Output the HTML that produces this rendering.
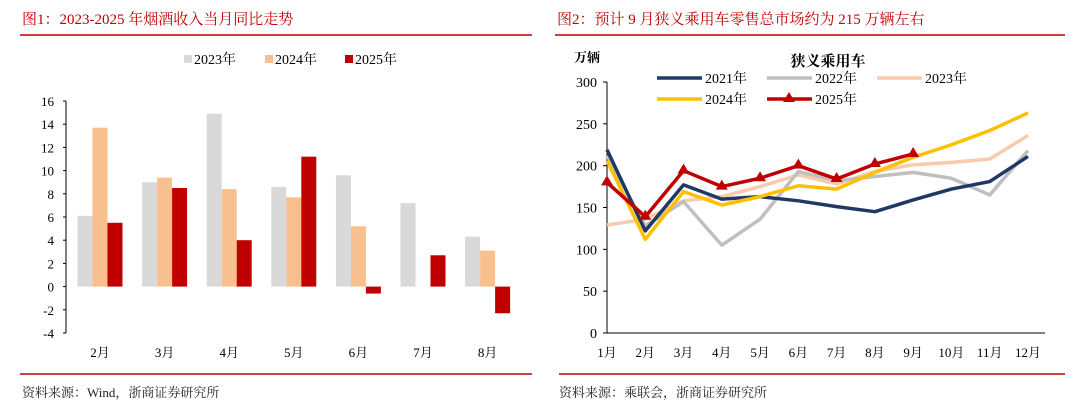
<!DOCTYPE html>
<html><head><meta charset="utf-8"><style>
body{margin:0;width:1080px;height:409px;background:#fff;overflow:hidden;font-family:"Liberation Serif","Noto Serif CJK SC",serif}
svg{position:absolute;left:0;top:0}
text{font-family:"Liberation Serif","Noto Serif CJK SC",serif}
</style></head><body>
<svg id="s" width="1080" height="409">
<text x="22" y="24" font-size="15" fill="#c00000">图1：2023-2025 年烟酒收入当月同比走势</text>
<line x1="20" y1="35" x2="532" y2="35" stroke="#c00000" stroke-width="1.5"/>
<text x="557" y="24" font-size="15" fill="#c00000">图2：预计 9 月狭义乘用车零售总市场约为 215 万辆左右</text>
<line x1="555" y1="35" x2="1065" y2="35" stroke="#c00000" stroke-width="1.5"/>
<line x1="20" y1="374" x2="532" y2="374" stroke="#c00000" stroke-width="1.5"/>
<line x1="559" y1="374" x2="1065" y2="374" stroke="#c00000" stroke-width="1.5"/>
<text x="22" y="397" font-size="13" fill="#222">资料来源：Wind，浙商证券研究所</text>
<text x="559" y="397" font-size="13" fill="#222">资料来源：乘联会，浙商证券研究所</text>
<g id="L"></g><g id="R"></g>
</svg>
<script>
const barCats=["2月","3月","4月","5月","6月","7月","8月"];
const v2023=[6.1,9.0,14.9,8.6,9.6,7.2,4.3];
const v2024=[13.7,9.4,8.4,7.7,5.2,null,3.1];
const v2025=[5.5,8.5,4.0,11.2,-0.6,2.7,-2.3];
const barTicks=[16,14,12,10,8,6,4,2,0,-2,-4];
const lineCats=["1月","2月","3月","4月","5月","6月","7月","8月","9月","10月","11月","12月"];
const s2021=[219,122,177,160,163,158,151,145,159,172,181,211];
const s2022=[212,128,157,105,136,193,182,187,192,185,165,218];
const s2023=[129,136,158,163,175,189,178,193,201,204,208,236];
const s2024=[206,112,169,153,163,176,172,192,210,225,242,263];
const s2025=[180,139,194,175,185,200,184,202,214];
const lineTicks=[0,50,100,150,200,250,300];
const NS="http://www.w3.org/2000/svg";
function mk(p,t,a,txt){const e=document.createElementNS(NS,t);for(const k in a)e.setAttribute(k,a[k]);if(txt!=null)e.textContent=txt;p.appendChild(e);return e;}
// left chart
const L=document.getElementById('L');
const yB=v=>286.6-v*11.6, xB=i=>100+i*64.6;
mk(L,'line',{x1:66,y1:yB(16),x2:66,y2:yB(-4),stroke:'#000','stroke-width':1,});
barTicks.forEach(t=>{
 const tk=mk(L,'line',{x1:63,y1:yB(t),x2:66,y2:yB(t),stroke:'#000'});
 
 const tx=mk(L,'text',{x:54,y:yB(t)+5,'font-size':13,'text-anchor':'end'},t);
 
});
const series=[[v2023,'#d9d9d9',-15],[v2024,'#f8c08f',0],[v2025,'#c00000',15]];
barCats.forEach((c,i)=>{
 const tx=mk(L,'text',{x:xB(i),y:357,'font-size':13,'text-anchor':'middle'},c);
 
 series.forEach(([arr,col,off])=>{const v=arr[i];if(v==null)return;
  const r=mk(L,'rect',{x:xB(i)+off-7.5,y:Math.min(yB(v),yB(0)),width:15,height:Math.abs(yB(v)-yB(0)),fill:col});
  });
});
[['2023年','#d9d9d9',184],['2024年','#f8c08f',265],['2025年','#c00000',345]].forEach(([n,c,x])=>{
 const g=mk(L,'g',{});
 mk(g,'rect',{x:x,y:55,width:8,height:8,fill:c});mk(g,'text',{x:x+10,y:64,'font-size':14},n);});
// right chart
const R=document.getElementById('R');
const yL=v=>333-v*(251/300), xL=i=>607+i*38.27;
mk(R,'line',{x1:607,y1:yL(300),x2:607,y2:yL(0),stroke:'#000',});
mk(R,'line',{x1:607,y1:yL(0),x2:1045,y2:yL(0),stroke:'#000',});
lineTicks.forEach(t=>{
 const tk=mk(R,'line',{x1:603,y1:yL(t),x2:607,y2:yL(t),stroke:'#000'});
 
 const tx=mk(R,'text',{x:597,y:yL(t)+5,'font-size':14,'text-anchor':'end'},t);
 
});
lineCats.forEach((c,i)=>{const tx=mk(R,'text',{x:xL(i),y:357,'font-size':13,'text-anchor':'middle'},c);
 });
mk(R,'text',{x:574,y:62,'font-size':13,'font-weight':'bold',},'万辆');
mk(R,'text',{x:828,y:66,'font-size':15,'font-weight':'bold','text-anchor':'middle',},'狭义乘用车');
const lines=[[s2023,'#f8cbad','2023年'],[s2022,'#bfbfbf','2022年'],[s2021,'#203864','2021年'],[s2024,'#ffc000','2024年'],[s2025,'#c00000','2025年']];
lines.forEach(([arr,col])=>{
 const p=mk(R,'polyline',{points:arr.map((v,i)=>xL(i)+','+yL(v)).join(' '),fill:'none',stroke:col,'stroke-width':3.5,'stroke-linejoin':'round'});
 
 if(arr===s2025)arr.forEach((v,i)=>{const m=mk(R,'path',{d:`M${xL(i)},${yL(v)-7}l6,10h-12z`,fill:col});
  });
});
[['2021年','#203864',657,82],['2022年','#bfbfbf',767,82],['2023年','#f8cbad',877,82],['2024年','#ffc000',657,103],['2025年','#c00000',767,103]].forEach(([n,c,x,y])=>{
 const g=mk(R,'g',{});
 mk(g,'line',{x1:x,y1:y-4,x2:x+45,y2:y-4,stroke:c,'stroke-width':3.5});
 if(n==='2025年')mk(g,'path',{d:`M${x+22},${y-11}l6,10h-12z`,fill:c});
 mk(g,'text',{x:x+48,y:y+1,'font-size':14},n);});
</script>
</body></html>
